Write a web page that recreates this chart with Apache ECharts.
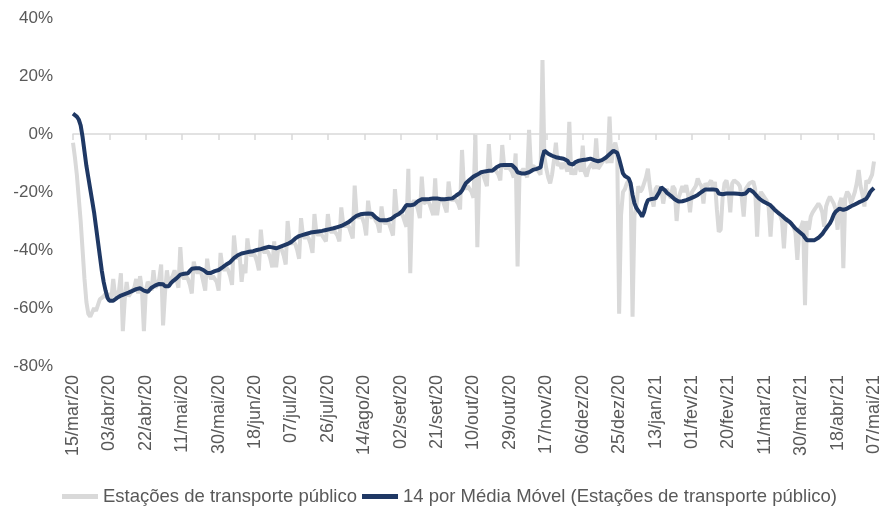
<!DOCTYPE html>
<html>
<head>
<meta charset="utf-8">
<script src="https://cdn.jsdelivr.net/npm/echarts@6/dist/echarts.min.js"></script>
<style>
html, body { margin: 0; padding: 0; background: #fff; }
#chart { width: 883px; height: 507px; }
</style>
</head>
<body>
<div id="chart"></div>
<script>
// valores diários (%), a partir de 15/mar/20 (domingo), uma semana por linha
var estacoes = [
    -3, -8, -14, -22, -30, -40, -50,
    -58, -62, -63, -63, -60, -61, -59,
    -57, -57, -56, -55, -56, -55, -57,
    -50, -56, -55, -54, -48, -68, -57,
    -51, -56, -55, -54, -53, -50, -55,
    -49, -54, -68, -54, -51, -52, -54,
    -47, -53, -52, -50, -45, -66, -55,
    -47, -52, -50, -49, -47, -50, -53,
    -39, -49, -50, -49, -50, -52, -55,
    -44, -47, -48, -47, -48, -51, -54,
    -43, -48, -50, -49, -49, -51, -54,
    -41, -46, -47, -46, -47, -49, -52,
    -35, -42, -43, -42, -51, -45, -48,
    -36, -41, -42, -41, -42, -44, -47,
    -33, -40, -41, -40, -41, -43, -46,
    -37, -46, -40, -39, -40, -42, -45,
    -30, -37, -38, -37, -38, -40, -43,
    -29, -35, -36, -35, -36, -38, -41,
    -27.6, -34, -35, -34, -35, -36, -37,
    -27.6, -33, -34, -33, -34, -35, -37,
    -25.3, -31, -32, -31, -32, -34, -36,
    -17.8, -28, -29, -28, -29, -31, -35,
    -23, -28, -29, -28, -30, -31, -34,
    -25, -30, -31, -30, -31, -33, -35,
    -19, -27, -28, -27, -28, -30, -32,
    -12, -48, -24, -23, -24, -26, -29,
    -14.7, -24, -24, -23, -24, -26, -28,
    -15.3, -28, -23, -22, -23, -25, -27,
    -16.4, -22, -23, -22, -23, -24, -26,
    -5.5, -18, -19, -18, -19, -20, -22,
    -0.3, -39, -14, -13, -14, -16, -18,
    -3.5, -13, -13, -12, -13, -14, -16,
    -3.8, -11, -12, -11, -12, -13, -15,
    -6.7, -45.7, -14, -13, -12, -13, -15,
    1.4, -12, -11, -11, -12, -13, -14,
    25.5, -8, -12, -15, -17, -14, -9,
    -3, -11, -10, -12, -10, -11, -13,
    4.2, -14, -12, -14, -10, -11, -13,
    -4, -13, -14.7, -12, -11, -10, -12,
    -1.5, -12, -11, -10, -9, -8, -10,
    6, -10, -5, -3, -6, -62, -28,
    -20, -19, -17, -16, -18, -63, -28,
    -25, -18, -20, -19, -17, -15, -12,
    -18, -22, -25, -19, -18, -20, -19,
    -24, -20, -19, -21, -22, -18, -19,
    -30, -22, -20, -18, -20, -17.6, -21,
    -27, -20, -19, -18, -15.3, -17, -18,
    -24, -17, -18, -17, -16, -19, -16.5,
    -26, -33.7, -33, -22, -17, -16, -19,
    -27, -17, -16, -15.9, -17, -18, -22,
    -28.5, -19, -18, -17, -17.6, -16.4, -19,
    -35.4, -22, -20, -21, -22, -23, -25,
    -35.4, -25, -26, -26, -27, -28, -30,
    -39.4, -29, -30, -30, -31, -32, -34,
    -43.4, -33, -32, -30, -59, -30, -33,
    -28.5, -27, -26, -25, -24, -25, -27,
    -32, -25, -23, -21.6, -22, -24, -26,
    -33, -24, -22, -46.3, -22, -19.9, -21,
    -24, -22, -20, -17, -12.4, -18, -21,
    -25, -16, -17, -17, -14, -9.5
];

var mediaMovel = [
    7, 6.5, 6, 5, 3, -1, -6,
    -11, -15, -19, -23, -27, -32, -37,
    -42, -47, -51, -54, -56.5, -57.5, -58,
    -57.5, -57, -56.5, -56, -55.7, -55.5, -55.2,
    -55, -54.7, -54.4, -54.1, -53.8, -53.5, -53.3,
    -53.2, -53.5, -54, -54.3, -54.4, -54, -53,
    -52.5, -52.2, -52, -51.7, -51.5, -51.8, -52.5,
    -52.9, -52.5, -51.5, -50.8, -50.3, -49.8, -49.2,
    -48.5, -48.3, -48.2, -48.1, -48, -47.2, -46.5,
    -46.3, -46.3, -46.3, -46.3, -46.4, -46.9, -47.5,
    -47.9, -48, -47.9, -47.6, -47.3, -47.1, -46.9,
    -46.5, -46, -45.5, -45, -44.6, -44.2, -43.5,
    -42.8, -42.2, -41.8, -41.4, -41.2, -41, -40.9,
    -40.8, -40.6, -40.5, -40.4, -40.2, -40, -39.8,
    -39.7, -39.5, -39.3, -39.1, -38.9, -38.9, -39.1,
    -39.3, -39.4, -39.2, -38.9, -38.6, -38.4, -38.1,
    -37.9, -37.6, -37.2, -36.6, -36, -35.5, -35.2,
    -35, -34.8, -34.6, -34.4, -34.2, -34, -33.9,
    -33.8, -33.7, -33.6, -33.5, -33.4, -33.2, -33.1,
    -33, -32.8, -32.7, -32.5, -32.3, -32.1, -32,
    -31.7, -31.4, -31, -30.6, -30.3, -29.8, -29.2,
    -28.7, -28.2, -27.9, -27.7, -27.6, -27.5, -27.5,
    -27.4, -27.4, -27.5, -28, -28.8, -29.4, -29.7,
    -29.7, -29.7, -29.7, -29.7, -29.6, -29.3, -28.8,
    -28.3, -28, -27.6, -27.2, -26.5, -25.5, -24.5,
    -24, -24.6, -24.8, -24.3, -23.7, -23.2, -22.8,
    -22.5, -22.5, -22.5, -22.4, -22.4, -22.4, -22.2,
    -21.6, -22.2, -22.5, -22.5, -22.5, -22.5, -22.4,
    -22.3, -22.2, -22.2, -21.8, -21.2, -20.7, -20.3,
    -19.5, -18.2, -17, -16.4, -15.8, -15.2, -14.7,
    -14.2, -14, -13.5, -13.2, -13, -12.9, -12.8,
    -12.7, -12.7, -12.6, -12.2, -11.5, -11, -10.8,
    -10.7, -10.7, -10.7, -10.7, -10.7, -10.7, -10.8,
    -12, -13.2, -13.6, -13.6, -13.6, -13.6, -13.5,
    -13.2, -12.8, -12.4, -12.2, -12, -11.8, -11.5,
    -8, -5.7, -6.3, -6.8, -7.2, -7.5, -7.8,
    -8, -8.2, -8.3, -8.4, -8.5, -8.6, -9.2,
    -10.2, -10.7, -10.5, -9.8, -9.3, -9.2, -9.1,
    -9, -8.9, -8.8, -8.6, -8.5, -8.4, -9,
    -9.5, -9.4, -9.2, -9, -8.8, -8.2, -7.6,
    -7, -6.4, -5.8, -5.5, -6.5, -8.5, -11,
    -13.6, -14.5, -15, -15.3, -17, -21, -23.9,
    -25.5, -26.5, -27.3, -28.5, -27, -24.5, -22.8,
    -22.5, -22.4, -22.3, -22.2, -22, -20, -18.4,
    -18.6, -19.5, -20.3, -20.8, -21.3, -21.8, -22.5,
    -23, -23.3, -23.3, -23.2, -23, -22.8, -22.6,
    -22.3, -22, -21.7, -21.4, -21, -20.5, -20,
    -19.5, -19.1, -19.1, -19.1, -19.1, -19.1, -19.1,
    -19.3, -20.5, -21, -20.8, -20.6, -20.5, -20.5,
    -20.5, -20.5, -20.5, -20.5, -20.6, -20.6, -20.8,
    -21, -20.5, -19.8, -19.1, -19.4, -20, -20.5,
    -21.5, -22.2, -22.7, -23.2, -23.6, -23.9, -24.2,
    -24.6, -25.2, -26, -26.6, -27.2, -27.7, -28.2,
    -28.8, -29.4, -29.9, -30.3, -31, -31.8, -32.6,
    -33.2, -33.7, -34.3, -34.8, -35.8, -36.6, -36.6,
    -36.6, -36.6, -36.6, -36.3, -35.8, -35.4, -34.5,
    -33.5, -32.6, -31.7, -30.8, -29.5, -27.8, -26.8,
    -26.2, -25.7, -25.9, -26.2, -26.2, -25.7, -25.2,
    -24.9, -24.6, -24.3, -24, -23.6, -23.3, -23,
    -22.7, -22.3, -21.3, -20, -19.2, -18.6
];

var meses = ['jan', 'fev', 'mar', 'abr', 'mai', 'jun', 'jul', 'ago', 'set', 'out', 'nov', 'dez'];
var inicio = Date.UTC(2020, 2, 15);
var passoRotulo = 19; // um rótulo a cada 19 dias

// categorias diárias no formato dd/mmm/aa
var categorias = [];
for (var i = 0; i < estacoes.length; i++) {
    var d = new Date(inicio + i * 86400000);
    var dia = ('0' + d.getUTCDate()).slice(-2);
    var ano = String(d.getUTCFullYear()).slice(-2);
    categorias.push(dia + '/' + meses[d.getUTCMonth()] + '/' + ano);
}

var cinza = '#d9d9d9';
var azul = '#1f3864';
var texto = '#595959';

var myChart = echarts.init(document.getElementById('chart'));
var option = {
    animation: false,
    textStyle: { fontFamily: 'Liberation Sans' },
    grid: { left: 73, right: 9, top: 18, bottom: 141 },
    legend: {
        left: 57,
        top: 482,
        icon: 'rect',
        itemWidth: 36,
        itemHeight: 5,
        itemGap: 5,
        textStyle: { fontSize: 18.5, color: texto },
        data: ['Estações de transporte público', '14 por Média Móvel (Estações de transporte público)']
    },
    xAxis: [{
        // rótulos embaixo do gráfico
        type: 'category',
        data: categorias,
        boundaryGap: false,
        axisLine: { show: false, onZero: false },
        axisTick: { show: false },
        axisLabel: { interval: passoRotulo - 1, rotate: 90, margin: 9, fontSize: 18, color: texto }
    }, {
        // linha do zero com as marcas
        type: 'category',
        data: categorias,
        boundaryGap: false,
        position: 'bottom',
        axisLine: { onZero: true, lineStyle: { color: cinza, width: 1.5 } },
        axisTick: { interval: passoRotulo - 1, length: 6, lineStyle: { color: cinza, width: 1.5 } },
        axisLabel: { show: false }
    }],
    yAxis: {
        type: 'value',
        min: -80,
        max: 40,
        interval: 20,
        axisLine: { show: false },
        axisTick: { show: false },
        splitLine: { show: false },
        axisLabel: { formatter: '{value}%', fontSize: 17, color: texto, margin: 20 }
    },
    series: [{
        name: 'Estações de transporte público',
        type: 'line',
        data: estacoes,
        symbol: 'none',
        lineStyle: { color: cinza, width: 4 },
        itemStyle: { color: cinza }
    }, {
        name: '14 por Média Móvel (Estações de transporte público)',
        type: 'line',
        data: mediaMovel,
        symbol: 'none',
        lineStyle: { color: azul, width: 4 },
        itemStyle: { color: azul }
    }]
};
myChart.setOption(option);
</script>
</body>
</html>
